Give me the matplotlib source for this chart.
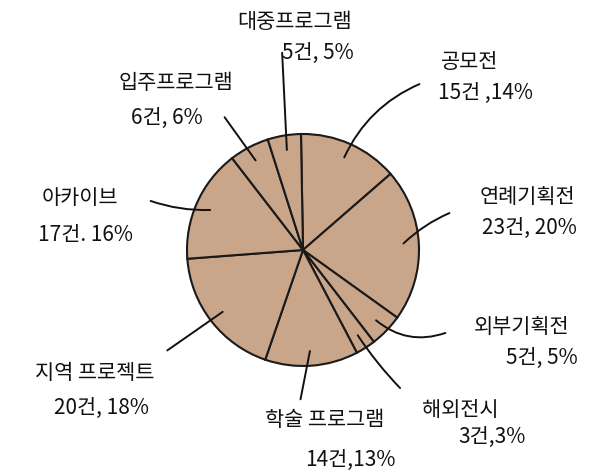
import numpy as np
import matplotlib.pyplot as plt

plt.rcParams['font.family'] = ['Noto Sans CJK KR', 'DejaVu Sans']

# 데이터 (시계방향, 위쪽에서 시작)
names = ['공모전', '연례기획전', '외부기획전', '해외전시', '학술 프로그램',
         '지역 프로젝트', '아카이브', '입주프로그램', '대중프로그램']
counts = [15, 23, 5, 3, 14, 20, 17, 6, 5]
pct_labels = ['15건 ,14%', '23건, 20%', '5건, 5%', '3건,3%', '14건,13%',
              '20건, 18%', '17건. 16%', '6건, 6%', '5건, 5%']

# 라벨 위치 (픽셀 좌표, 이름줄 / 건수줄)
name_pos = [(470, 62), (527, 197), (522, 327), (460, 410), (325, 420),
            (95, 373), (80, 198), (176, 83), (295, 22)]
cnt_pos = [(486, 93), (529, 228), (542, 358), (492, 437), (350, 460),
           (102, 408), (85, 235), (167, 118), (318, 53)]
# 지시선 끝점과 곡률
line_end = [(422, 83), (452, 212), (448, 332), (402, 390), (300, 402),
            (165, 352), (148, 200), (223, 115), (282, 50)]
line_rad = [0.2, 0.1, -0.3, -0.05, 0.0, 0.0, 0.1, 0.0, 0.0]

W, H = 606, 476
cx, cy, r = 303, 250, 116

fig = plt.figure(figsize=(W / 100, H / 100), dpi=100)
ax = fig.add_axes([0, 0, 1, 1])

wedges, _ = ax.pie(counts, center=(cx, cy), radius=r, startangle=-91,
                   counterclock=True, colors=['#C9A58A'] * len(counts),
                   wedgeprops=dict(edgecolor='#1a1a1a', linewidth=1.5))

ax.set_xlim(0, W)
ax.set_ylim(H, 0)
ax.set_aspect('equal')
ax.axis('off')

for i, w in enumerate(wedges):
    mid = np.deg2rad((w.theta1 + w.theta2) / 2)
    start = (cx + 0.85 * r * np.cos(mid), cy + 0.85 * r * np.sin(mid))
    ax.annotate('', xy=start, xytext=line_end[i],
                arrowprops=dict(arrowstyle='-', color='#111', lw=1.4,
                                connectionstyle=f'arc3,rad={line_rad[i]}'))
    ax.text(name_pos[i][0], name_pos[i][1], names[i], fontsize=15,
            fontweight='medium', ha='center', va='center', color='#111')
    ax.text(cnt_pos[i][0], cnt_pos[i][1], pct_labels[i], fontsize=15,
            fontweight='medium', ha='center', va='center', color='#111')

plt.savefig('out.png', dpi=100)
